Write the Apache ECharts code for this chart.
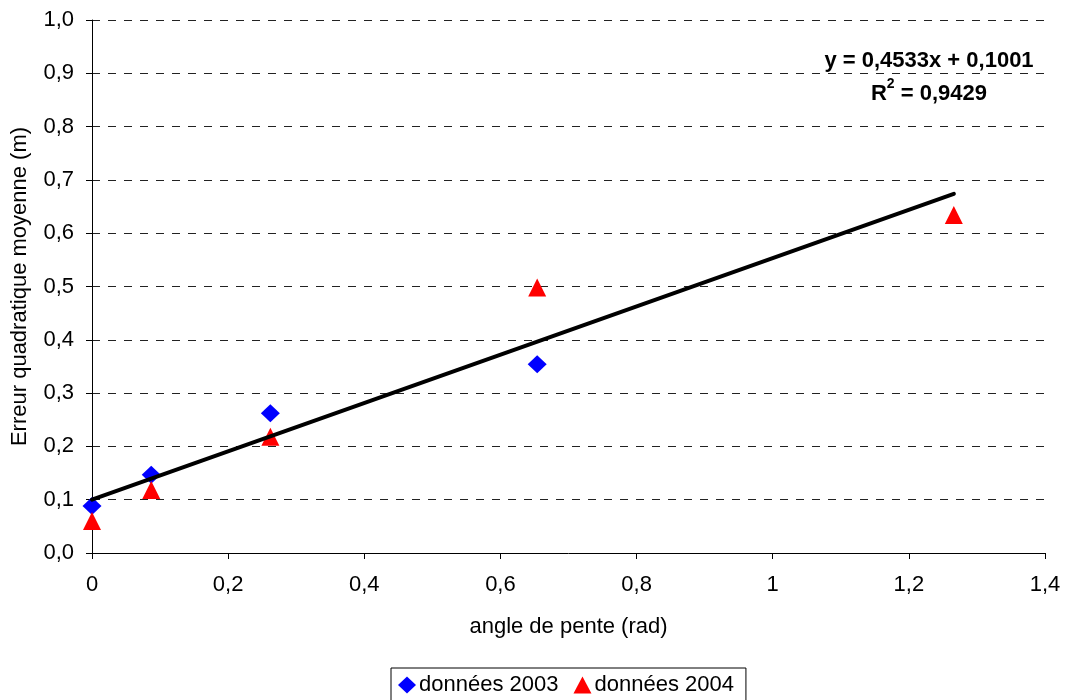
<!DOCTYPE html>
<html>
<head>
<meta charset="utf-8">
<script src="https://cdn.jsdelivr.net/npm/echarts@6/dist/echarts.min.js"></script>
<style>
html,body{margin:0;padding:0;background:#fff;}
#chart{width:1065px;height:700px;}
</style>
</head>
<body>
<div id="chart"></div>
<script>
// Slope angles (rad) and mean quadratic error (m) for each survey year
const angles2003 = [0, 0.087, 0.262, 0.654];
const errors2003 = [0.088, 0.147, 0.262, 0.354];
const angles2004 = [0, 0.087, 0.262, 0.654, 1.266];
const errors2004 = [0.060, 0.118, 0.218, 0.498, 0.634];

// Linear trend fitted on both years
const trendSlope = 0.4533;
const trendIntercept = 0.1001;
const trendR2 = 0.9429;
const trendRange = [0, 1.266];

const seriesNames = ['données 2003', 'données 2004'];
const xTitle = 'angle de pente (rad)';
const yTitle = 'Erreur quadratique moyenne (m)';

const fmt = (v, d) => v.toFixed(d).replace('.', ',');
const eqText = 'y = ' + fmt(trendSlope, 4) + 'x + ' + fmt(trendIntercept, 4);
const r2Text = 'R{sup|2} = ' + fmt(trendR2, 4);

const pts2003 = angles2003.map((a, i) => [a, errors2003[i]]);
const pts2004 = angles2004.map((a, i) => [a, errors2004[i]]);
const trendPts = trendRange.map(x => [x, trendSlope * x + trendIntercept]);

const FONT = '"Liberation Sans", Arial, sans-serif';
const FS = 22;
const chart = echarts.init(document.getElementById('chart'), null, {renderer: 'canvas'});
chart.setOption({
  animation: false,
  backgroundColor: '#fff',
  textStyle: {fontFamily: FONT},
  grid: {left: 92, right: 20, top: 20, bottom: 147, containLabel: false, outerBoundsMode: 'none'},
  xAxis: {
    type: 'value', min: 0, max: 1.4, interval: 0.2,
    name: xTitle, nameLocation: 'middle', nameGap: 63,
    nameTextStyle: {fontSize: FS, color: '#000', fontFamily: FONT},
    axisLine: {lineStyle: {color: '#000', width: 1}},
    axisTick: {show: true, inside: false, length: 6, lineStyle: {color: '#000'}},
    axisLabel: {
      fontSize: FS, color: '#000', margin: 21, fontFamily: FONT,
      formatter: v => String(Math.round(v * 10) / 10).replace('.', ',')
    },
    splitLine: {show: false}
  },
  yAxis: {
    type: 'value', min: 0, max: 1, interval: 0.1,
    name: yTitle, nameLocation: 'middle', nameGap: 61, nameRotate: 90,
    nameTextStyle: {fontSize: FS, color: '#000', fontFamily: FONT},
    axisLine: {show: true, lineStyle: {color: '#000', width: 1}},
    axisTick: {show: true, inside: false, length: 6, lineStyle: {color: '#000'}},
    axisLabel: {fontSize: FS, color: '#000', margin: 18, fontFamily: FONT, formatter: v => fmt(v, 1)},
    splitLine: {show: true, lineStyle: {color: '#222', type: [8, 8], width: 1}}
  },
  legend: {
    left: 391, top: 668, itemGap: 15, itemWidth: 18, itemHeight: 17,
    padding: [6, 12, 6, 7],
    borderColor: '#000', borderWidth: 1,
    textStyle: {fontSize: FS, color: '#000', fontFamily: FONT, padding: [0, 0, 0, -2]},
    data: [
      {name: seriesNames[0], icon: 'diamond'},
      {name: seriesNames[1], icon: 'triangle'}
    ]
  },
  graphic: [{
    type: 'text', x: 929, y: 44, z: 100,
    style: {
      text: eqText + '\n' + r2Text,
      align: 'center',
      font: 'bold ' + FS + 'px ' + FONT, fill: '#000', lineHeight: 33,
      rich: {sup: {fontSize: 14, fontWeight: 'bold', fontFamily: FONT, verticalAlign: 'top', padding: [0, 0, 8, 0]}}
    }
  }],
  series: [
    {
      name: seriesNames[0], type: 'scatter', data: pts2003,
      symbol: 'diamond', symbolSize: [19, 18], itemStyle: {color: '#0000ff', opacity: 1}, z: 2
    },
    {
      name: seriesNames[1], type: 'scatter', data: pts2004,
      symbol: 'triangle', symbolSize: 18, itemStyle: {color: '#ff0000', opacity: 1}, z: 2
    },
    {
      name: 'tendance', type: 'line', data: trendPts, showSymbol: false, z: 5,
      lineStyle: {color: '#000', width: 4, cap: 'round'}, silent: true
    }
  ]
});
</script>
</body>
</html>
